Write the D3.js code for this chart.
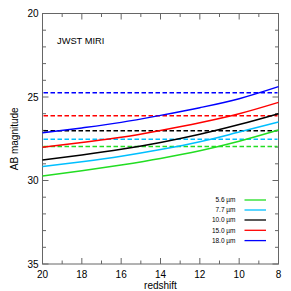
<!DOCTYPE html>
<html>
<head>
<meta charset="utf-8">
<script src="https://cdn.jsdelivr.net/npm/d3@7"></script>
<style>
  body { margin: 0; background: #fff; }
  text { font-family: "Liberation Sans", Arial, sans-serif; }
</style>
</head>
<body>
<svg width="291" height="291"></svg>
<script>
// redshift samples and AB magnitudes
const redshifts = [20, 18, 16, 14, 12, 10, 8];
const bands = ['5.6 µm', '7.7 µm', '10.0 µm', '15.0 µm', '18.0 µm'];
const colors = ['#22dd22', '#00bfff', '#000000', '#ff0000', '#0000ff'];
const mag56 = [29.73, 29.42, 29.07, 28.68, 28.22, 27.65, 26.98];
const mag77 = [29.17, 28.88, 28.55, 28.15, 27.68, 27.10, 26.50];
const mag100 = [28.77, 28.47, 28.13, 27.72, 27.23, 26.65, 26.00];
const mag150 = [28.01, 27.72, 27.41, 27.00, 26.54, 26.00, 25.32];
const mag180 = [27.14, 26.85, 26.52, 26.10, 25.64, 25.10, 24.38];
const limits = [27.97, 27.53, 27.02, 26.12, 24.74]; // dashed detection limits
const xTicks = [20, 18, 16, 14, 12, 10, 8];
const yTicks = [20, 25, 30, 35];

const series = [mag56, mag77, mag100, mag150, mag180];

const svg = d3.select('svg');
const m = {left: 42.5, right: 278.5, top: 13.5, bottom: 264};

const x = d3.scaleLinear().domain([20, 8]).range([m.left, m.right]);
const y = d3.scaleLinear().domain([20, 35]).range([m.top, m.bottom]);

const axisColor = '#666';

// frame
svg.append('rect')
  .attr('x', m.left).attr('y', m.top)
  .attr('width', m.right - m.left).attr('height', m.bottom - m.top)
  .attr('fill', 'none').attr('stroke', axisColor).attr('stroke-width', 1);

// ticks on all four sides, pointing inward
const xMinor = d3.range(8, 21, 1);
const yMinor = d3.range(20, 36, 1);
const g = svg.append('g').attr('stroke', axisColor).attr('stroke-width', 1);
xMinor.forEach(v => {
  const len = xTicks.includes(v) ? 6 : 3.5;
  g.append('line').attr('x1', x(v)).attr('x2', x(v)).attr('y1', m.bottom).attr('y2', m.bottom - len);
  g.append('line').attr('x1', x(v)).attr('x2', x(v)).attr('y1', m.top).attr('y2', m.top + len);
});
yMinor.forEach(v => {
  const len = yTicks.includes(v) ? 6 : 3.5;
  g.append('line').attr('y1', y(v)).attr('y2', y(v)).attr('x1', m.left).attr('x2', m.left + len);
  g.append('line').attr('y1', y(v)).attr('y2', y(v)).attr('x1', m.right).attr('x2', m.right - len);
});

// tick labels
svg.selectAll('.xl').data(xTicks).enter().append('text')
  .attr('x', d => x(d)).attr('y', 278)
  .attr('text-anchor', 'middle').attr('font-size', 10)
  .text(d => d);
svg.selectAll('.yl').data(yTicks).enter().append('text')
  .attr('x', 38.5).attr('y', d => y(d) + 3.6)
  .attr('text-anchor', 'end').attr('font-size', 10)
  .text(d => d);

// axis titles
svg.append('text').attr('x', (m.left + m.right) / 2).attr('y', 289)
  .attr('text-anchor', 'middle').attr('font-size', 10).text('redshift');
svg.append('text')
  .attr('transform', `translate(17.5,${(m.top + m.bottom) / 2}) rotate(-90)`)
  .attr('text-anchor', 'middle').attr('font-size', 10).text('AB magnitude');

svg.append('text').attr('x', 57).attr('y', 43.5).attr('font-size', 9.3).text('JWST MIRI');

// dashed limits
svg.selectAll('.lim').data(limits).enter().append('line')
  .attr('x1', m.left + 1).attr('x2', m.right - 1)
  .attr('y1', d => y(d)).attr('y2', d => y(d))
  .attr('stroke', (d, i) => colors[i]).attr('stroke-width', 1.5)
  .attr('stroke-dasharray', '4.5,2.5');

// magnitude curves
const line = d3.line()
  .x((d, i) => x(redshifts[i]))
  .y(d => y(d))
  .curve(d3.curveMonotoneX);

svg.selectAll('.curve').data(series).enter().append('path')
  .attr('d', line)
  .attr('fill', 'none')
  .attr('stroke', (d, i) => colors[i])
  .attr('stroke-width', 1.5);

// legend
const legY = [200, 210, 220, 230.3, 240.6];
bands.forEach((b, i) => {
  svg.append('text').attr('x', 235.5).attr('y', legY[i] + 2.3)
    .attr('text-anchor', 'end').attr('font-size', 6.5).text(b);
  svg.append('line').attr('x1', 244.5).attr('x2', 266)
    .attr('y1', legY[i]).attr('y2', legY[i])
    .attr('stroke', colors[i]).attr('stroke-width', 1.3);
});
</script>
</body>
</html>
